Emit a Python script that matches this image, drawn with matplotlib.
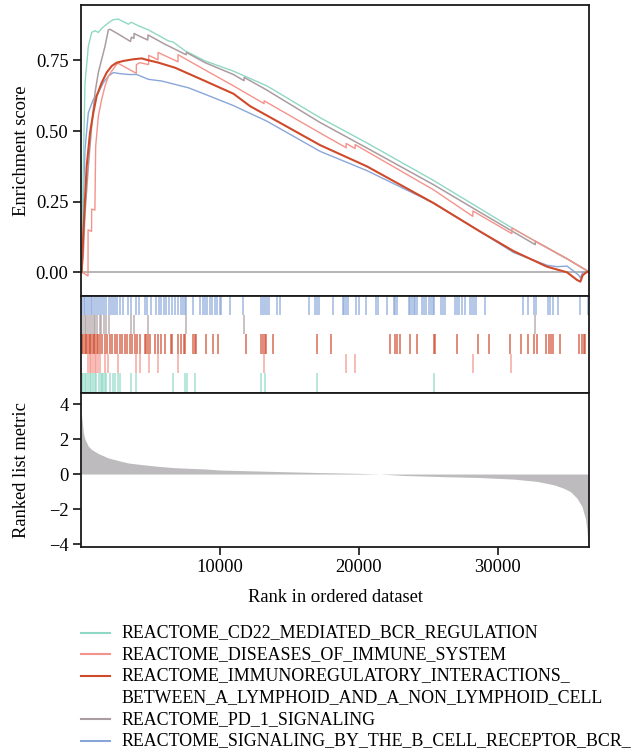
import matplotlib
matplotlib.use("Agg")
import matplotlib.pyplot as plt
from matplotlib.lines import Line2D

plt.rcParams['font.family'] = ['Liberation Serif', 'DejaVu Serif']
plt.rcParams['axes.unicode_minus'] = True

# ---------------- data ----------------
set_names = [
    "REACTOME_CD22_MEDIATED_BCR_REGULATION",
    "REACTOME_DISEASES_OF_IMMUNE_SYSTEM",
    "REACTOME_IMMUNOREGULATORY_INTERACTIONS_\nBETWEEN_A_LYMPHOID_AND_A_NON_LYMPHOID_CELL",
    "REACTOME_PD_1_SIGNALING",
    "REACTOME_SIGNALING_BY_THE_B_CELL_RECEPTOR_BCR_",
]
set_colors = ["#8fd8c5", "#f4938b", "#cf4a2b", "#ab9ca0", "#89a6d9"]
n_genes = 36500

cd22_rank = [0, 48, 168, 288, 528, 768, 1008, 1248, 1488, 1848, 2088, 2328, 2688, 3048, 3408,
             3624, 4008, 4848, 6288, 6624, 7488, 8928, 10968, 13368, 17208, 20568, 25368,
             28728, 31008, 32688, 34968, 36500]
cd22_es = [0.0, 0.0, 0.375, 0.67, 0.80, 0.849, 0.855, 0.849, 0.863, 0.878, 0.887, 0.894, 0.896,
           0.887, 0.878, 0.885, 0.875, 0.858, 0.819, 0.815, 0.784, 0.748, 0.712, 0.660, 0.547,
           0.458, 0.325, 0.225, 0.157, 0.110, 0.048, 0.003]

dis_rank = [0, 48, 300, 504, 510, 760, 768, 1000, 1056, 1248, 1488, 1728, 1968, 2208, 2568,
            2664, 3980, 3984, 4224, 4860, 4872, 5540, 5544, 6980, 6984, 8928, 10968, 13170,
            13176, 17208, 19075, 19080, 19720, 19728, 20568, 25368, 28190, 28200, 31000,
            31008, 32688, 34968, 36500]
dis_es = [0.0, 0.0, -0.006, -0.013, 0.15, 0.145, 0.224, 0.22, 0.446, 0.553, 0.612, 0.659, 0.694,
          0.712, 0.736, 0.740, 0.704, 0.735, 0.742, 0.735, 0.768, 0.752, 0.778, 0.745, 0.770,
          0.716, 0.660, 0.597, 0.607, 0.493, 0.441, 0.456, 0.438, 0.452, 0.428, 0.292, 0.198,
          0.217, 0.137, 0.157, 0.110, 0.048, 0.003]

imm_rank = [0, 48, 168, 288, 408, 648, 888, 1128, 1488, 1848, 2208, 2568, 3048, 3768, 4368,
            4728, 5568, 6768, 8928, 10968, 12168, 17208, 20568, 25368, 28728, 31128, 33528,
            34248, 34968, 35688, 35928, 36100, 36360, 36500]
imm_es = [0.0, 0.0, 0.14, 0.257, 0.375, 0.494, 0.565, 0.624, 0.671, 0.707, 0.73, 0.742, 0.748,
          0.754, 0.757, 0.752, 0.742, 0.724, 0.677, 0.632, 0.588, 0.45, 0.375, 0.245, 0.144,
          0.075, 0.02, 0.01, 0.0, -0.027, -0.033, -0.01, 0.0, 0.003]

pd1_rank = [0, 48, 168, 288, 528, 768, 1008, 1248, 1488, 1728, 1968, 2088, 2688, 3560, 3624,
            3810, 3816, 4800, 4824, 6048, 7560, 7584, 8928, 10968, 11730, 11736, 13368, 17208,
            20568, 25368, 28728, 31008, 32680, 32688, 34968, 36500]
pd1_es = [0.0, 0.0, 0.067, 0.21, 0.375, 0.517, 0.636, 0.707, 0.754, 0.80, 0.858, 0.86, 0.843,
          0.817, 0.832, 0.828, 0.845, 0.822, 0.840, 0.807, 0.770, 0.778, 0.742, 0.700, 0.678,
          0.690, 0.645, 0.530, 0.440, 0.310, 0.212, 0.146, 0.098, 0.110, 0.048, 0.003]

bcr_rank = [0, 48, 168, 288, 528, 888, 1248, 1608, 1968, 2328, 2688, 3408, 4008, 4848, 5808,
            6768, 7728, 8928, 10968, 13368, 17208, 20568, 25368, 28728, 31128, 33528, 34248,
            34968, 35400, 35808, 35928, 36120, 36300, 36500]
bcr_es = [0.0, 0.0, 0.257, 0.434, 0.565, 0.612, 0.636, 0.671, 0.694, 0.707, 0.704, 0.70, 0.70,
          0.683, 0.677, 0.665, 0.653, 0.63, 0.59, 0.535, 0.428, 0.36, 0.245, 0.144, 0.07, 0.025,
          0.02, 0.022, 0.006, -0.01, -0.02, 0.002, 0.0, 0.0]

bcr_hits = [72, 216, 312, 456, 552, 696, 792, 936, 1104, 1224, 1344, 1512, 1656, 1824, 1992,
            2136, 2304, 2472, 2616, 2784, 3024, 3384, 3624, 3984, 4152, 4584, 4776, 5064, 5424,
            5592, 5784, 5976, 6144, 6312, 6552, 6744, 6984, 7224, 7344, 7464, 7584, 8064, 8544,
            8784, 8904, 9072, 9264, 9432, 9624, 9816, 9984, 10104, 10704, 11664, 12936, 13080,
            13248, 13368, 13560, 14088, 14328, 16440, 16848, 16968, 17088, 18120, 18840, 18936,
            19080, 19176, 19800, 19968, 20520, 21240, 21336, 22008, 22488, 22608, 22728, 23568,
            23688, 23808, 23928, 24048, 24168, 24528, 24696, 24840, 25008, 25176, 25320, 25416,
            25896, 26040, 26208, 26928, 27048, 27168, 27408, 27648, 27960, 28128, 28248, 28440,
            29088, 31800, 32136, 32616, 32760, 33576, 33768, 33960, 34296, 35880, 36456]
pd1_hits = [144, 264, 384, 504, 624, 792, 936, 1032, 1176, 1344, 1464, 1656, 1824, 1992, 3624,
            3816, 4824, 7584, 11736, 32688]
imm_hits = [72, 168, 264, 360, 456, 552, 648, 744, 840, 936, 1032, 1128, 1224, 1344, 1512, 1704,
            1896, 2064, 2232, 2424, 2616, 2784, 2952, 3144, 3336, 3504, 3672, 3864, 4056, 4224,
            4584, 4704, 4824, 4944, 5304, 5544, 5784, 6072, 6456, 6552, 6984, 7176, 7416, 7512,
            8064, 8184, 8304, 9024, 9504, 9864, 11904, 12936, 13080, 13248, 13320, 13800, 16968,
            17976, 22248, 22608, 22728, 22920, 23688, 24168, 25416, 25488, 27048, 28536, 29328,
            30888, 31656, 32136, 32616, 32808, 33480, 33648, 33816, 33960, 34440, 35808, 36048,
            36168, 36288]
dis_hits = [504, 624, 744, 864, 984, 1104, 1224, 1344, 1704, 1944, 2664, 3984, 4224, 4872, 5544,
            6984, 13176, 19080, 19728, 28200, 30936]
cd22_hits = [72, 168, 264, 384, 504, 624, 744, 864, 984, 1104, 1272, 1416, 1512, 1584, 1704,
             1824, 2064, 2304, 2472, 2664, 2784, 3624, 3984, 6624, 7512, 7656, 8184, 12936,
             13248, 16968, 25416]

metric_rank = [1, 96, 168, 288, 528, 768, 1248, 1968, 2688, 3408, 4368, 5568, 6768, 8928, 10000,
               14500, 17400, 20000, 21500, 23200, 26100, 28728, 31128, 32808, 34008, 34728,
               35208, 35688, 36048, 36288, 36408, 36470, 36500]
metric_value = [3.6, 2.94, 2.36, 1.98, 1.59, 1.40, 1.17, 0.92, 0.77, 0.63, 0.54, 0.44, 0.36, 0.29,
                0.23, 0.135, 0.08, 0.04, 0.0, -0.08, -0.15, -0.2, -0.29, -0.42, -0.61, -0.81,
                -1.0, -1.38, -1.86, -2.53, -3.2, -4.1, -4.2]

# ---------------- figure ----------------
W, H = 634, 752
fig = plt.figure(figsize=(W / 100, H / 100), dpi=100)

def box(l, t, r, b):
    return [l / W, 1 - b / H, (r - l) / W, (b - t) / H]

ax_es = fig.add_axes(box(81, 5, 589, 295.5))
ax_rug = fig.add_axes(box(81, 295.5, 589, 392.5))
ax_m = fig.add_axes(box(81, 392.5, 589, 547))

FS = 13.3
xlim = (0, 36550)

# ES curves
ax_es.axhline(0, color="#a8a8a8", lw=1.2, zorder=1)
curves = [
    (bcr_rank, bcr_es, set_colors[4], 1.0),
    (cd22_rank, cd22_es, set_colors[0], 1.0),
    (pd1_rank, pd1_es, set_colors[3], 1.1),
    (dis_rank, dis_es, set_colors[1], 1.0),
    (imm_rank, imm_es, set_colors[2], 1.5),
]
for r, e, c, lw in curves:
    ax_es.plot(r, e, color=c, lw=lw, zorder=2)
ax_es.set_xlim(*xlim)
ax_es.set_ylim(-0.082, 0.946)
ax_es.set_yticks([0.0, 0.25, 0.5, 0.75])
ax_es.set_yticklabels(["0.00", "0.25", "0.50", "0.75"])
ax_es.set_xticks([])
ax_es.set_ylabel("Enrichment score", fontsize=FS)
ax_es.yaxis.set_label_coords(-0.100, 0.5)

# rug
rows = [
    (bcr_hits, set_colors[4], 4),
    (pd1_hits, set_colors[3], 3),
    (imm_hits, set_colors[2], 2),
    (dis_hits, set_colors[1], 1),
    (cd22_hits, set_colors[0], 0),
]
for hits, c, y0 in rows:
    ax_rug.vlines(hits, y0, y0 + 1, colors=c, lw=1.1, alpha=0.8)
ax_rug.set_xlim(*xlim)
ax_rug.set_ylim(0, 5)
ax_rug.set_xticks([])
ax_rug.set_yticks([])

# ranked metric
ax_m.fill_between(metric_rank, 0, metric_value, color="#bdbbbd", lw=0)
ax_m.set_xlim(*xlim)
ax_m.set_ylim(-4.17, 4.66)
ax_m.set_yticks([-4, -2, 0, 2, 4])
ax_m.set_xticks([10000, 20000, 30000])
ax_m.set_ylabel("Ranked list metric", fontsize=FS)
ax_m.yaxis.set_label_coords(-0.100, 0.5)
ax_m.set_xlabel("Rank in ordered dataset", fontsize=FS)
ax_m.xaxis.set_label_coords(0.5, -0.275)

for a in (ax_es, ax_rug, ax_m):
    for s in a.spines.values():
        s.set_linewidth(1.3)
        s.set_color("#1a1a1a")
    a.tick_params(direction="out", length=6, width=1.1, labelsize=FS, pad=3)

# legend (manual)
y0 = 632.7
dy = 21.67
entries = [(set_names[0], set_colors[0]), (set_names[1], set_colors[1]),
           (set_names[2].split("\n")[0], set_colors[2]), (set_names[2].split("\n")[1], None),
           (set_names[3], set_colors[3]), (set_names[4], set_colors[4])]
for i, (txt, c) in enumerate(entries):
    yy = 1 - (y0 + i * dy) / H
    if c is not None:
        fig.add_artist(Line2D([81 / W, 110 / W], [yy, yy], color=c, lw=1.5,
                              transform=fig.transFigure))
    fig.text(121 / W, yy, txt, fontsize=12.9, va="center", ha="left")

fig.savefig("out.png", dpi=100)
